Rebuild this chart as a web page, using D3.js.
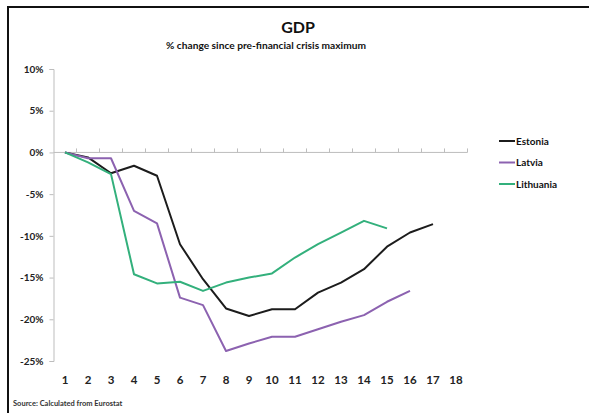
<!DOCTYPE html>
<html>
<head>
<meta charset="utf-8">
<script src="https://cdn.jsdelivr.net/npm/d3@7"></script>
<style>
  html, body { margin: 0; padding: 0; background: #fff; }
  svg { display: block; font-family: Lato, "Open Sans", sans-serif; }
</style>
</head>
<body>
<svg id="chart" width="589" height="413"></svg>
<script>
// Quarters since the pre-crisis GDP peak
const periods = d3.range(1, 19);
const yTicks = [10, 5, 0, -5, -10, -15, -20, -25];

// % change of GDP since pre-financial crisis maximum
const estonia   = [0, -0.6, -2.5, -1.6, -2.8, -11.0, -15.2, -18.7, -19.6, -18.8, -18.8, -16.8, -15.6, -14.0, -11.3, -9.6, -8.6];
const latvia    = [0, -0.7, -0.7, -7.0, -8.5, -17.4, -18.3, -23.8, -22.9, -22.1, -22.1, -21.2, -20.3, -19.5, -17.9, -16.6];
const lithuania = [0, -1.2, -2.6, -14.6, -15.7, -15.5, -16.6, -15.6, -15.0, -14.5, -12.6, -11.0, -9.6, -8.2, -9.1];

const seriesNames  = ["Estonia", "Latvia", "Lithuania"];
const seriesValues = [estonia, latvia, lithuania];
const seriesColors = ["#1c1c1c", "#8c62b0", "#33b07c"];

const svg = d3.select("#chart");

// outer frame
svg.append("rect")
  .attr("x", 8).attr("y", 7)
  .attr("width", 620).attr("height", 440)
  .attr("fill", "none").attr("stroke", "#111").attr("stroke-width", 2);

// titles
svg.append("text")
  .attr("x", 298).attr("y", 33)
  .attr("text-anchor", "middle")
  .attr("font-size", 16).attr("font-weight", "bold").attr("fill", "#111")
  .text("GDP");
svg.append("text")
  .attr("x", 266).attr("y", 49)
  .attr("text-anchor", "middle")
  .attr("font-size", 10.2).attr("font-weight", "bold").attr("fill", "#111")
  .text("% change since pre-financial  crisis maximum");

const x = d3.scaleBand().domain(periods).range([53.5, 467.5]).paddingInner(0).paddingOuter(0);
const y = d3.scaleLinear().domain([-25, 10]).range([361, 69]);
const cx = d => x(d) + x.bandwidth() / 2;

// y axis
const yAxis = svg.append("g")
  .attr("transform", `translate(${x.range()[0]},0)`)
  .call(d3.axisLeft(y).tickValues(yTicks).tickSize(4).tickFormat(d => d + "%"));
yAxis.select(".domain").attr("stroke", "#bdbdbd");
yAxis.selectAll(".tick line").attr("stroke", "#bdbdbd");
yAxis.selectAll(".tick text")
  .attr("x", -10)
  .attr("font-size", 10).attr("font-weight", "bold").attr("fill", "#222")
  .attr("font-family", "Lato, sans-serif");

// category axis sits on the zero line, ticks at band boundaries
const xAxisG = svg.append("g").attr("transform", `translate(0,${y(0)})`);
xAxisG.append("line")
  .attr("x1", x.range()[0]).attr("x2", x.range()[1])
  .attr("stroke", "#bdbdbd");
xAxisG.selectAll("line.tk")
  .data(periods)
  .join("line")
  .attr("class", "tk")
  .attr("x1", d => x(d) + x.bandwidth()).attr("x2", d => x(d) + x.bandwidth())
  .attr("y1", 0).attr("y2", -4)
  .attr("stroke", "#bdbdbd");

// category labels under the plot
svg.append("g")
  .selectAll("text")
  .data(periods)
  .join("text")
  .attr("x", d => cx(d))
  .attr("y", 384)
  .attr("text-anchor", "middle")
  .attr("font-size", 11.5).attr("font-weight", "bold").attr("fill", "#222")
  .text(d => d);

// series lines
const line = d3.line()
  .x((d, i) => cx(periods[i]))
  .y(d => y(d));

svg.append("g")
  .selectAll("path")
  .data(seriesValues)
  .join("path")
  .attr("d", d => line(d))
  .attr("fill", "none")
  .attr("stroke", (d, i) => seriesColors[i])
  .attr("stroke-width", 2)
  .attr("stroke-linejoin", "round");

// legend
const legend = svg.append("g")
  .selectAll("g")
  .data(seriesNames)
  .join("g")
  .attr("transform", (d, i) => `translate(499,${141 + i * 21.5})`);
legend.append("line")
  .attr("x1", 0).attr("x2", 16)
  .attr("stroke", (d, i) => seriesColors[i])
  .attr("stroke-width", 2);
legend.append("text")
  .attr("x", 17).attr("y", 3.5)
  .attr("font-size", 10).attr("font-weight", "bold").attr("fill", "#111")
  .text(d => d);

// source note
svg.append("text")
  .attr("x", 13).attr("y", 406)
  .attr("font-size", 7.5).attr("font-weight", "bold").attr("fill", "#333")
  .text("Source: Calculated from Eurostat");
</script>
</body>
</html>
